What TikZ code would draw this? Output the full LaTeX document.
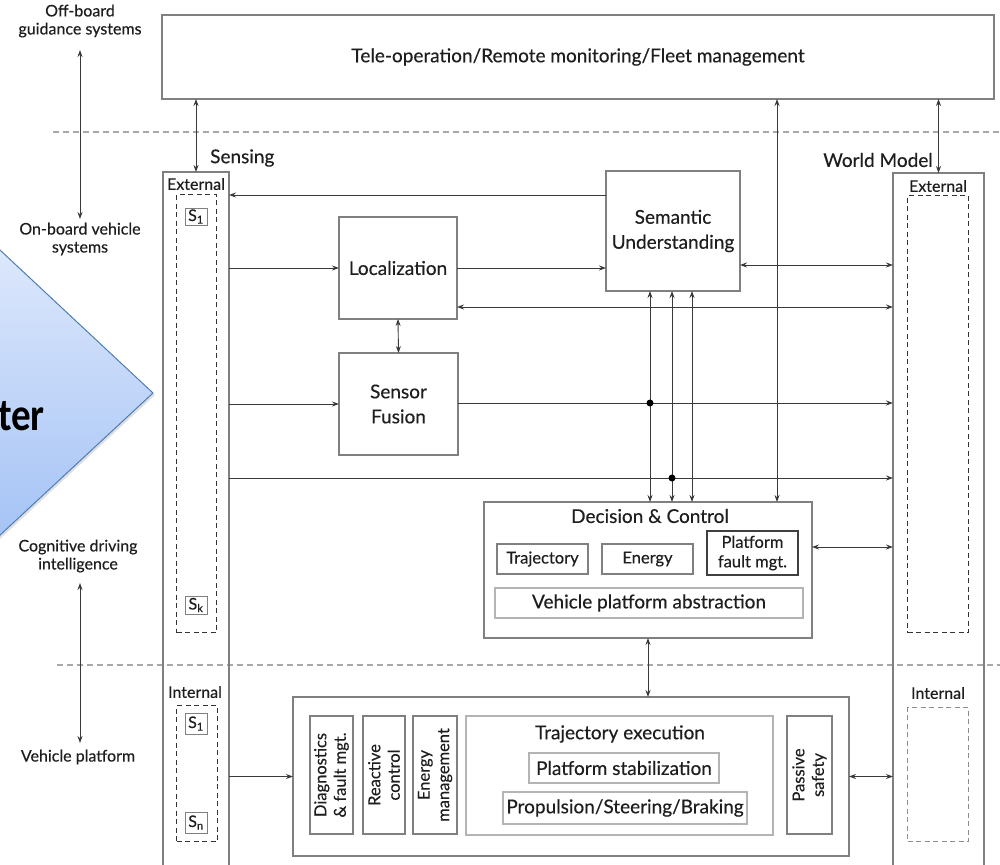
\documentclass[tikz,border=0pt]{standalone}
\usepackage{fontspec}
\setmainfont{Lato}[FakeBold=0.35]
\newfontfamily\calfont{Carlito}
\usetikzlibrary{arrows.meta,shadows}

\definecolor{boxgray}{HTML}{808080}
\definecolor{lightbox}{HTML}{B4B4B4}
\definecolor{linec}{HTML}{3A3A3A}
\definecolor{txt}{HTML}{1E1E1E}
\definecolor{sepc}{HTML}{A8A8A8}
\definecolor{blueedge}{RGB}{74,126,187}
\definecolor{bluetop}{RGB}{226,235,252}
\definecolor{bluebot}{RGB}{160,192,245}

\newcommand{\fmain}{\fontsize{19}{25}\selectfont}
\newcommand{\fmid}{\fontsize{16.5}{19.5}\selectfont}
\newcommand{\fsmall}{\fontsize{16}{18}\selectfont}

\begin{document}
\begin{tikzpicture}[x=1pt,y=-1pt,
  box/.style={draw=boxgray, line width=1.3pt, inner sep=0pt, outer sep=0pt, anchor=north west, text=txt, align=center, font=\fmain},
  lbox/.style={box, draw=lightbox},
  mbox/.style={box, font=\fmid},
  vbox/.style={draw=boxgray, line width=1.3pt, inner sep=0pt, outer sep=0pt, rotate=90, text=txt, align=center, font=\fmid},
  sbox/.style={draw=boxgray, line width=1pt, inner sep=0pt, outer sep=0pt, anchor=north west, text=txt, font=\fsmall},
  dbox/.style={draw=black!80, line width=1.1pt, dash pattern=on 5pt off 3.5pt, inner sep=0pt, anchor=north west},
  ldbox/.style={dbox, draw=black!45},
  lbl/.style={text=txt, align=center, font=\fsmall, inner sep=1pt},
  ttl/.style={text=txt, align=center, font=\fmain, inner sep=1pt},
  conn/.style={draw=linec, line width=0.9pt, -{Stealth[length=7pt,width=5pt]}},
  dconn/.style={draw=linec, line width=0.9pt, {Stealth[length=7pt,width=5pt]}-{Stealth[length=7pt,width=5pt]}},
  sep/.style={draw=sepc, line width=1.2pt, dash pattern=on 6pt off 4pt},
  dot/.style={circle, fill=black, inner sep=0pt, minimum size=7pt}
]
\useasboundingbox (0,0) rectangle (1000,864);
\clip (0,0) rectangle (1000,864);

% blue chevron (cut off at left)
\path[top color=bluetop, bottom color=bluebot, draw=blueedge, line width=1pt,
      drop shadow={shadow xshift=2pt, shadow yshift=-2pt, opacity=0.25}]
  (-30,222) -- (153,393) -- (-30,563) -- cycle;
\node[font=\calfont\bfseries\fontsize{46}{46}\selectfont, xscale=0.85, anchor=base east, inner sep=0pt] (ter) at (45,430) {ter};

% separators
\draw[sep] (53,132) -- (1000,132);
\draw[sep] (57,665) -- (1000,665);

% left labels
\node[lbl] (offb) at (80,21) {Off-board\\guidance systems};
\node[lbl] (onb) at (80,239) {On-board vehicle\\systems};
\node[lbl] (cogn) at (78,556) {Cognitive driving\\intelligence};
\node[lbl] (vplat) at (78,757) {Vehicle platform};
\coordinate (l1) at (80,50);
\coordinate (l2) at (80,219);
\coordinate (l3) at (80,583);
\coordinate (l4) at (80,743);
\draw[dconn] (l1) -- (l2);
\draw[dconn] (l3) -- (l4);

% top box
\node[box, minimum width=832, minimum height=84] (top) at (162,15) {Tele-operation/Remote monitoring/Fleet management};

% Sensing column
\node[box, minimum width=66, minimum height=720] (sens) at (163,172) {};
\node[ttl, anchor=west] (senslbl) at (209,158) {Sensing};
\node[lbl] (sext) at (196,184) {External};
\node[dbox, minimum width=40, minimum height=438] (sexd) at (176,194) {};
\node[sbox, minimum width=22, minimum height=17] (s1) at (185,208) {S\textsubscript{1}};
\node[sbox, minimum width=22, minimum height=18] (sk) at (185,596) {S\textsubscript{k}};
\node[lbl] (sint) at (195,692) {Internal};
\node[dbox, minimum width=41, minimum height=136] (sind) at (176,705) {};
\node[sbox, minimum width=22, minimum height=21] (si1) at (185,713) {S\textsubscript{1}};
\node[sbox, minimum width=22, minimum height=21] (sn) at (185,812) {S\textsubscript{n}};

% World model column
\node[box, minimum width=91, minimum height=720] (wm) at (893,173) {};
\node[ttl, anchor=east] (wmlbl) at (934,160) {World Model};
\node[lbl] (wext) at (938,186) {External};
\node[dbox, minimum width=61, minimum height=437] (wexd) at (907,195) {};
\node[lbl] (wint) at (938,693) {Internal};
\node[ldbox, minimum width=61, minimum height=134] (wind) at (907,707) {};

% middle boxes
\node[box, minimum width=118, minimum height=102] (loc) at (339,217) {Localization};
\node[box, minimum width=119, minimum height=102] (sf) at (339,353) {Sensor\\Fusion};
\node[box, minimum width=134, minimum height=120] (sem) at (606,171) {Semantic\\Understanding};

% Decision & Control
\node[box, minimum width=328, minimum height=136] (dc) at (484,502) {};
\node[ttl] (dcl) at (650,516) {Decision \& Control};
\node[mbox, minimum width=91, minimum height=30] (traj) at (497,544) {Trajectory};
\node[mbox, minimum width=91, minimum height=30] (ener) at (602,544) {Energy};
\node[mbox, draw=black!75, line width=1.6pt, minimum width=91, minimum height=44] (pfm) at (707,531) {Platform\\fault mgt.};
\node[lbox, minimum width=308, minimum height=30] (vpa) at (495,588) {Vehicle platform abstraction};

% Vehicle platform box
\node[box, minimum width=556, minimum height=159] (bot) at (293,697) {};
\node[vbox, minimum width=118, minimum height=43] (diag) at (331.5,775) {Diagnostics\\\& fault mgt.};
\node[vbox, minimum width=118, minimum height=42] (react) at (384,775) {Reactive\\control};
\node[vbox, minimum width=118, minimum height=44] (enm) at (435,775) {Energy\\management};
\node[lbox, minimum width=307, minimum height=119] (te) at (466,716) {};
\node[ttl] (tel) at (620,734) {Trajectory execution};
\node[lbox, minimum width=190, minimum height=30] (ps) at (529,753) {Platform stabilization};
\node[lbox, minimum width=244, minimum height=32] (psb) at (503,792) {Propulsion/Steering/Braking};
\node[vbox, minimum width=118, minimum height=45] (pas) at (809.5,775) {Passive\\safety};

% helper coordinates
\coordinate (yA) at (0,195);
\coordinate (ySW) at (0,265);
\coordinate (yLW) at (0,307);
\coordinate (ySF) at (0,403);
\coordinate (yS) at (0,478);
\coordinate (yDC) at (0,547);
\coordinate (xT) at (777,0);
\coordinate (x1) at (650,0);
\coordinate (x2) at (672,0);
\coordinate (x3) at (692,0);
\coordinate (xB) at (648,0);

% connectors
\draw[dconn] (top.south -| sens.north) -- (sens.north);
\draw[dconn] (top.south -| wm.north) -- (wm.north);
\draw[dconn] (top.south -| xT) -- (dc.north -| xT);
\draw[conn] (sem.west |- yA) -- (sens.east |- yA);
\draw[conn] (sens.east |- loc.west) -- (loc.west);
\draw[conn] (loc.east) -- (sem.west |- loc.east);
\draw[dconn] (sem.east |- ySW) -- (wm.west |- ySW);
\draw[dconn] (loc.east |- yLW) -- (wm.west |- yLW);
\draw[dconn] (loc.south) -- (sf.north);
\draw[conn] (sens.east |- sf.west) -- (sf.west);
\draw[conn] (sf.east |- ySF) -- (wm.west |- ySF);
\draw[conn] (sens.east |- yS) -- (wm.west |- yS);
\draw[dconn] (sem.south -| x1) -- (dc.north -| x1);
\draw[dconn] (sem.south -| x2) -- (dc.north -| x2);
\draw[dconn] (sem.south -| x3) -- (dc.north -| x3);
\node[dot] (d1) at (x1 |- ySF) {};
\node[dot] (d2) at (x2 |- yS) {};
\draw[dconn] (dc.east |- yDC) -- (wm.west |- yDC);
\draw[dconn] (dc.south -| xB) -- (bot.north -| xB);
\draw[conn] (sens.east |- bot.west) -- (bot.west);
\draw[dconn] (bot.east) -- (wm.west |- bot.east);
\end{tikzpicture}
\end{document}
